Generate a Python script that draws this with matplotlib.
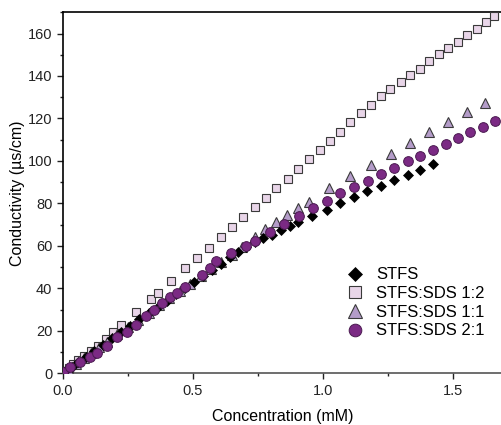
import matplotlib

matplotlib.use("Agg")
import matplotlib.pyplot as plt
from matplotlib.ticker import MultipleLocator

plt.rcParams["font.family"] = ["Liberation Sans", "DejaVu Sans"]

# STFS (black diamonds)
stfs_x = [0.01, 0.035, 0.06, 0.09, 0.12, 0.155, 0.19, 0.225, 0.26, 0.295, 0.33,
          0.365, 0.40, 0.435, 0.47, 0.505, 0.54, 0.575, 0.61, 0.645, 0.675, 0.705,
          0.739, 0.770, 0.806, 0.841, 0.873, 0.907, 0.960, 1.016, 1.067, 1.122,
          1.172, 1.225, 1.276, 1.327, 1.374, 1.423]
stfs_y = [0.9, 3.0, 5.2, 7.8, 10.4, 13.4, 16.4, 19.4, 22.4, 25.4, 28.3,
          31.3, 34.2, 37.2, 40.1, 43.0, 45.9, 48.8, 51.7, 54.6, 57.1, 59.6,
          61.9, 63.5, 65.3, 67.4, 69.3, 71.2, 74.3, 77.1, 80.0, 83.1,
          85.9, 88.4, 91.2, 93.6, 95.9, 98.5]

# STFS:SDS 1:2 (light squares)
r12_x = [0.01, 0.025, 0.041, 0.060, 0.082, 0.109, 0.137, 0.166, 0.194, 0.224,
         0.280, 0.338, 0.365, 0.418, 0.469, 0.518, 0.563, 0.607, 0.650, 0.693,
         0.738, 0.782, 0.821, 0.866, 0.904, 0.947, 0.988, 1.029, 1.067, 1.106,
         1.148, 1.186, 1.225, 1.260, 1.301, 1.336, 1.374, 1.410, 1.448, 1.484,
         1.522, 1.557, 1.593, 1.628, 1.661]
r12_y = [1.0, 2.6, 4.4, 6.3, 8.1, 10.6, 13.0, 16.0, 19.3, 22.7,
         28.7, 34.8, 37.6, 43.7, 49.4, 54.3, 59.0, 64.0, 68.7, 73.4,
         78.1, 82.7, 87.2, 91.6, 96.0, 100.7, 105.1, 109.3, 113.7, 118.3,
         122.4, 126.3, 130.4, 133.8, 137.2, 140.4, 143.5, 147.0, 150.3, 153.0,
         155.9, 159.2, 162.0, 165.5, 168.3]

# STFS:SDS 1:1 (lilac triangles)
r11_x = [0.02, 0.05, 0.08, 0.11, 0.14, 0.17, 0.21, 0.25, 0.29, 0.33, 0.37,
         0.41, 0.45, 0.49, 0.53, 0.57, 0.61, 0.65, 0.69, 0.739, 0.780, 0.822,
         0.864, 0.904, 0.947, 1.026, 1.107, 1.186, 1.263, 1.337, 1.411, 1.484,
         1.557, 1.625]
r11_y = [1.8, 4.4, 7.0, 9.6, 12.2, 14.8, 18.3, 21.7, 25.2, 28.6, 32.0,
         35.4, 38.8, 42.2, 45.6, 49.0, 52.4, 55.8, 59.4, 64.4, 67.8, 71.4,
         74.5, 77.9, 80.8, 87.1, 92.7, 98.3, 103.5, 108.5, 113.4, 118.4,
         123.1, 127.4]

# STFS:SDS 2:1 (dark purple circles)
r21_x = [0.0, 0.028, 0.066, 0.105, 0.131, 0.171, 0.207, 0.246, 0.281, 0.319,
         0.350, 0.380, 0.412, 0.438, 0.469, 0.534, 0.565, 0.591, 0.649, 0.706,
         0.738, 0.796, 0.851, 0.908, 0.962, 1.016, 1.067, 1.122, 1.173, 1.225,
         1.276, 1.327, 1.374, 1.423, 1.474, 1.521, 1.567, 1.615, 1.663]
r21_y = [0.8, 3.1, 5.5, 7.8, 9.7, 13.0, 16.9, 19.6, 22.7, 27.0,
         30.0, 33.2, 35.8, 38.0, 40.8, 46.3, 49.8, 52.8, 56.5, 59.9,
         62.5, 66.4, 70.4, 74.1, 78.0, 81.3, 84.7, 87.5, 90.6, 93.8,
         96.6, 99.8, 102.4, 105.1, 108.0, 110.7, 113.4, 116.2, 118.7]

fig = plt.figure(figsize=(5.02, 4.25), dpi=100)
ax = fig.add_axes([0.125, 0.1216, 0.875, 0.8495])

edge = "#3a3a3a"
ax.plot(r12_x, r12_y, "s", ms=6.3, mfc="#e8d5e8", mec=edge, mew=0.8,
        label="STFS:SDS 1:2", zorder=3)
ax.plot(r11_x, r11_y, "^", ms=7.5, mfc="#b49cc9", mec=edge, mew=0.8,
        label="STFS:SDS 1:1", zorder=4)
ax.plot(stfs_x, stfs_y, "D", ms=5.3, mfc="black", mec="black", mew=0.5,
        label="STFS", zorder=5)
ax.plot(r21_x, r21_y, "o", ms=7.0, mfc="#7b2a84", mec="#4a1a50", mew=0.7,
        label="STFS:SDS 2:1", zorder=6)

ax.set_xlim(0, 1.69)
ax.set_ylim(0, 170)
ax.xaxis.set_major_locator(MultipleLocator(0.5))
ax.xaxis.set_minor_locator(MultipleLocator(0.25))
ax.yaxis.set_major_locator(MultipleLocator(20))
ax.yaxis.set_minor_locator(MultipleLocator(10))
ax.xaxis.set_major_formatter(matplotlib.ticker.FormatStrFormatter("%.1f"))

ax.tick_params(which="both", direction="out", labelsize=10.5, colors="#222222")
ax.tick_params(which="major", length=4, width=1)
ax.tick_params(which="minor", length=2.5, width=1)
ax.tick_params(axis="x", pad=4)
for s in ["left", "top", "bottom"]:
    ax.spines[s].set_linewidth(1.2)
ax.spines["bottom"].set_color("#555555")
ax.spines["right"].set_visible(False)

ax.set_xlabel("Concentration (mM)", fontsize=11.5, labelpad=7.5)
ax.set_ylabel("Conductivity (µs/cm)", fontsize=11.5, labelpad=2)

handles, labels = ax.get_legend_handles_labels()
order = [labels.index(n) for n in ["STFS", "STFS:SDS 1:2", "STFS:SDS 1:1", "STFS:SDS 2:1"]]
ax.legend([handles[i] for i in order], [labels[i] for i in order],
          loc="lower right", bbox_to_anchor=(0.995, 0.055), frameon=False,
          fontsize=12, markerscale=1.3, handletextpad=0.8, labelspacing=0.22,
          handlelength=1.0)

fig.savefig("out.png", dpi=100)
